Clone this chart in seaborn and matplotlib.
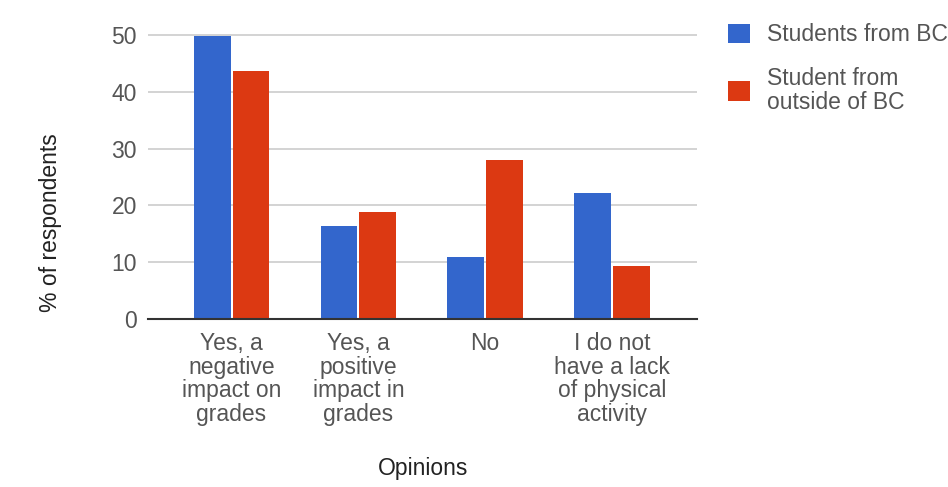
import pandas as pd
import matplotlib.pyplot as plt
import seaborn as sns

# --- data ---
opinions = ["Yes, a\nnegative\nimpact on\ngrades",
            "Yes, a\npositive\nimpact in\ngrades",
            "No",
            "I do not\nhave a lack\nof physical\nactivity"]
series_names = ["Students from BC", "Student from\noutside of BC"]
from_bc = [49.8, 16.4, 10.9, 22.2]
outside_bc = [43.7, 18.8, 28.0, 9.3]

colors = ["#3366cc", "#dc3912"]

df = pd.DataFrame({
    "Opinions": opinions * 2,
    "value": from_bc + outside_bc,
    "group": [series_names[0]] * 4 + [series_names[1]] * 4,
})

sns.set_style("white")
plt.rcParams["font.family"] = ["Liberation Sans", "DejaVu Sans"]
FS = 16.5

fig = plt.figure(figsize=(9.48, 4.87), dpi=100)
ax = fig.add_axes([0.156, 0.345, 0.579, 0.585])

sns.barplot(data=df, x="Opinions", y="value", hue="group", order=opinions,
            hue_order=series_names, palette=colors, width=0.61, gap=0.05,
            saturation=1, edgecolor="none", ax=ax, legend=True)

ax.set_xlim(-0.66, 3.67)
ax.set_ylim(0, 50.2)
ax.set_yticks([0, 10, 20, 30, 40, 50])
ax.yaxis.grid(True, color="#cccccc", linewidth=1.2)
ax.set_axisbelow(True)
for s in ["top", "right", "left"]:
    ax.spines[s].set_visible(False)
ax.spines["bottom"].set_color("#333333")
ax.spines["bottom"].set_linewidth(1.5)
ax.tick_params(axis="both", length=0, labelsize=FS, colors="#555555")
ax.tick_params(axis="y", pad=8)
ax.tick_params(axis="x", pad=9.5)
for lab in ax.get_xticklabels():
    lab.set_linespacing(1.03)
    lab.set_verticalalignment("top")

ax.set_xlabel("")
ax.set_ylabel("")
fig.text(0.446, 0.038, "Opinions", ha="center", va="center",
         fontsize=FS, color="#222222")
fig.text(0.053, 0.542, "% of respondents", ha="center", va="center",
         rotation=90, fontsize=FS, color="#222222")

handles, labels = ax.get_legend_handles_labels()
leg = ax.legend(handles, labels, loc="upper left", bbox_to_anchor=(0.768, 0.952),
                bbox_transform=fig.transFigure, frameon=False, fontsize=FS,
                handlelength=0.96, handleheight=0.96, handletextpad=0.74,
                labelspacing=0.9, labelcolor="#555555", borderaxespad=0,
                borderpad=0)
for t in leg.get_texts():
    t.set_linespacing(1.03)

plt.savefig("out.png", dpi=100)
